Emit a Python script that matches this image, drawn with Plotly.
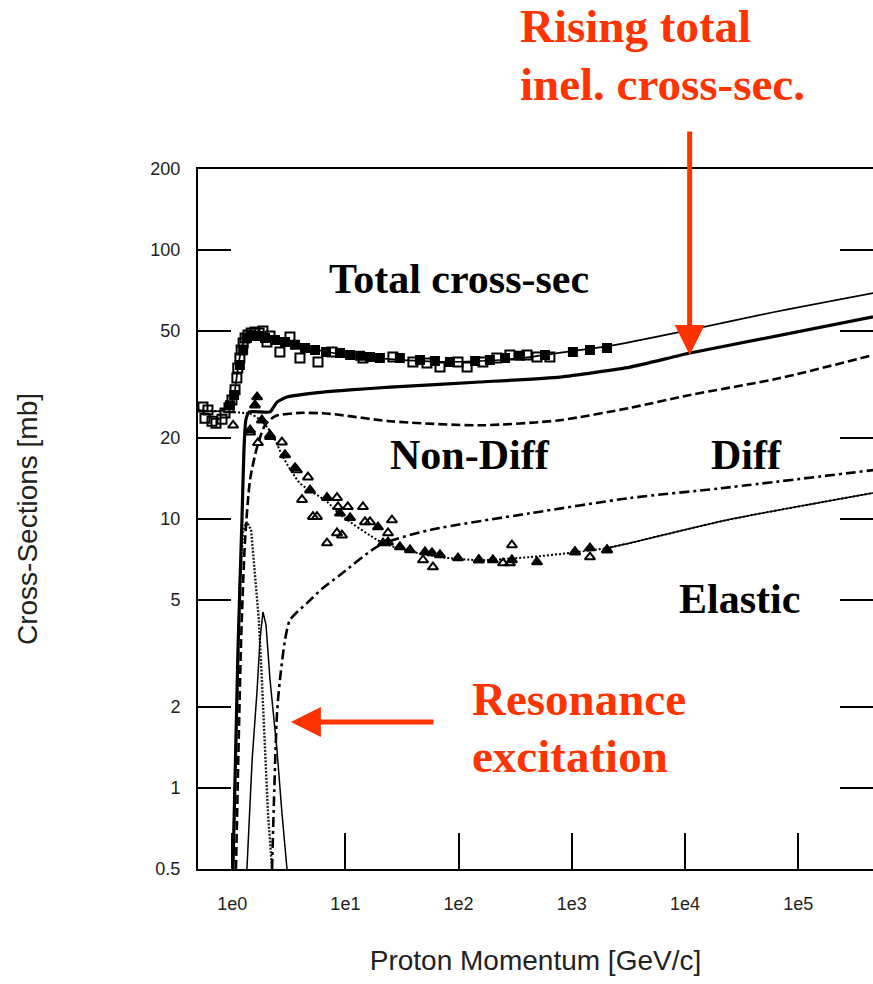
import numpy as np
import plotly.graph_objects as go

# ---- model curves: proton momentum [GeV/c] vs cross-section [mb] ----
total_p = [0.5, 0.78, 0.957, 1.04, 1.12, 1.20, 1.27, 1.38, 1.59, 1.95, 2.64, 3.97, 6.34, 10, 24.7, 78.6, 231, 426, 1000, 2170, 1e4, 6e4, 4.6e5]
total_xs = [25.4, 25.2, 26.5, 29.0, 36.0, 42.5, 45.5, 47.5, 48.0, 47.6, 46.0, 43.8, 42.1, 40.7, 39.3, 38.4, 39.0, 40.0, 42.1, 44.0, 50.0, 58.7, 69.2]

inel_p = [1.016, 1.125, 1.22, 1.27, 1.32, 1.41, 2.16, 2.49, 3.05, 6.34, 11.0, 24.7, 154, 787, 3270, 1.11e4, 4.58e5]
inel_xs = [0.5, 3.26, 9.9, 18.0, 23.3, 25.0, 25.0, 27.2, 28.4, 29.6, 30.2, 30.9, 32.3, 33.7, 36.7, 41.4, 56.4]

nondiff_p = [1.08, 1.20, 1.30, 1.44, 1.66, 1.95, 2.39, 3.97, 7.31, 24.7, 154, 787, 3270, 1.11e4, 6.9e4, 4.58e5]
nondiff_xs = [0.5, 3.55, 8.35, 14.0, 18.5, 22.3, 24.1, 24.8, 24.6, 23.1, 22.3, 23.3, 25.9, 28.9, 33.4, 40.7]

diff_p = [2.25, 2.34, 2.49, 2.64, 2.93, 3.24, 4.58, 6.34, 8.95, 20.2, 55.8, 427, 3270, 2.04e4, 4.58e5]
diff_xs = [0.5, 0.90, 1.90, 2.52, 3.55, 4.21, 4.87, 5.54, 6.19, 8.0, 9.10, 10.5, 11.97, 13.0, 15.2]

elastic_p = [0.5, 0.957, 1.44, 1.69, 2.03, 2.39, 2.81, 3.97, 6.88, 8.95, 21.5, 39.5, 68.5, 155, 427, 964, 2050, 3270, 2.35e4, 4.58e5]
elastic_xs = [25.4, 25.0, 24.6, 23.7, 22.0, 19.7, 17.0, 13.6, 11.6, 10.4, 8.14, 7.54, 7.22, 7.03, 7.22, 7.48, 7.80, 8.14, 9.91, 12.5]

res_a_p = [1.016, 1.10, 1.17, 1.25, 1.35, 1.47, 1.59, 1.72, 1.83, 1.95, 2.07, 2.25]
res_a_xs = [0.5, 2.31, 5.93, 9.10, 9.75, 9.10, 6.19, 4.21, 2.52, 1.38, 0.81, 0.5]

res_b_p = [1.35, 1.50, 1.66, 1.76, 1.87, 1.99, 2.16, 2.49, 2.75, 3.05]
res_b_xs = [0.5, 1.27, 2.31, 3.55, 4.51, 4.04, 2.52, 1.38, 0.81, 0.5]

# ---- measurements ----
tot_open_p = [0.552, 0.611, 0.575, 0.663, 0.719, 0.813, 0.864, 0.937, 0.996, 1.06, 1.10, 1.12, 1.17, 1.20, 1.25, 1.30, 1.38, 1.47, 1.59, 1.73, 1.87, 2.03, 2.16, 2.64, 3.24, 3.97, 5.73, 7.62, 14.3, 26.3, 39.5, 52.6, 68.5, 98.8, 119, 164, 218, 284, 402, 493, 641]
tot_open_xs = [26.1, 25.4, 23.7, 23.1, 22.7, 23.5, 24.8, 25.9, 27.7, 30.2, 33.4, 36.4, 39.7, 42.5, 45.1, 47.1, 48.3, 49.1, 49.6, 49.1, 50.0, 45.5, 47.9, 41.8, 47.5, 39.7, 38.3, 41.8, 39.7, 40.0, 38.3, 38.0, 36.7, 38.3, 36.7, 38.3, 39.7, 40.7, 40.7, 40.0, 40.0]

tot_fill_p = [0.957, 1.04, 1.17, 1.25, 1.35, 1.50, 1.69, 1.95, 2.39, 2.93, 3.59, 4.40, 5.39, 6.74, 8.96, 11.0, 13.5, 16.5, 20.2, 30.3, 45.6, 61.8, 83.9, 140, 189, 257, 349, 580, 1023, 1448, 2048]
tot_fill_xs = [26.5, 28.9, 37.4, 42.5, 47.1, 47.9, 47.9, 47.1, 46.3, 45.5, 44.4, 43.2, 42.5, 41.8, 41.4, 40.7, 40.4, 40.0, 39.7, 39.7, 39.0, 38.7, 38.3, 38.7, 39.0, 39.7, 40.4, 40.7, 41.8, 42.5, 43.2]

el_open_p = [1.02, 1.44, 1.69, 2.16, 2.75, 3.73, 4.67, 4.14, 5.17, 5.61, 6.88, 8.43, 8.61, 9.33, 8.43, 10.5, 14.3, 14.9, 16.5, 25.8, 23.8, 48.5, 59.4, 151, 247, 296, 284, 1067, 1448, 2048]
el_open_xs = [22.3, 21.0, 19.2, 20.5, 19.3, 15.2, 14.3, 11.8, 10.2, 10.2, 8.14, 8.87, 11.1, 8.71, 12.0, 11.1, 11.1, 9.75, 9.75, 9.91, 8.87, 7.04, 6.63, 7.04, 6.86, 8.00, 6.86, 7.54, 7.22, 7.67]

el_fill_p = [1.66, 1.59, 1.44, 1.83, 2.16, 2.93, 3.59, 4.87, 6.88, 8.96, 11.0, 19.4, 21.5, 23.8, 30.3, 37.2, 50.5, 58.2, 68.5, 98.8, 151, 201, 296, 493, 1067, 1448, 2048]
el_fill_xs = [28.4, 26.5, 21.4, 23.3, 20.2, 17.3, 15.5, 12.8, 12.0, 10.5, 10.1, 9.33, 8.14, 8.20, 7.87, 7.67, 7.54, 7.48, 7.35, 7.16, 7.04, 7.04, 7.04, 6.92, 7.54, 7.80, 7.67]

x_tick_vals = [1, 10, 100, 1e3, 1e4, 1e5]
x_tick_text = ["1e0", "1e1", "1e2", "1e3", "1e4", "1e5"]
y_tick_vals = [0.5, 1, 2, 5, 10, 20, 50, 100, 200]
y_tick_text = ["0.5", "1", "2", "5", "10", "20", "50", "100", "200"]

BLACK = "#000000"
RED = "#ff3300"
SANS = "Liberation Sans, Arial, sans-serif"
SERIF = "Liberation Serif, Times New Roman, serif"

fig = go.Figure()


def curve(px, py, width, dash="solid", color=BLACK, yaxis="y", smoothing=0.7):
    line = dict(color=color, width=width, dash=dash)
    if smoothing:
        line.update(shape="spline", smoothing=smoothing)
    fig.add_trace(go.Scatter(
        x=px, y=py, mode="lines", yaxis=yaxis, line=line,
        showlegend=False, hoverinfo="skip",
    ))


curve(res_a_p, res_a_xs, 2.4, dash="2px,1.5px", color="#222222", smoothing=0)
curve(res_b_p, res_b_xs, 1.5, smoothing=0)
curve(diff_p, diff_xs, 2.6, dash="10px,4px,3px,4px")
curve(nondiff_p, nondiff_xs, 2.6, dash="9px,4px")
curve(elastic_p, elastic_xs, 2.0, dash="2px,2px")
# fitted elastic beyond the last measurement
el_ext = [i for i, p in enumerate(elastic_p) if p >= 2000]
curve([elastic_p[i] for i in el_ext], [elastic_xs[i] for i in el_ext], 1.5, yaxis="y2")
curve(inel_p, inel_xs, 3.2, smoothing=0.45)
curve(total_p, total_xs, 1.7)


def points(px, py, symbol, size):
    fig.add_trace(go.Scatter(
        x=px, y=py, mode="markers",
        marker=dict(symbol=symbol, size=size, color=BLACK,
                    line=dict(color=BLACK, width=2)),
        showlegend=False, hoverinfo="skip", cliponaxis=True,
    ))


points(tot_open_p, tot_open_xs, "square-open", 9)
points(tot_fill_p, tot_fill_xs, "square", 8)
points(el_open_p, el_open_xs, "triangle-up-open", 9)
points(el_fill_p, el_fill_xs, "triangle-up", 9)

axis_common = dict(
    type="log", showgrid=False, zeroline=False,
    showline=True, linecolor=BLACK, linewidth=2,
    ticks="inside", tickcolor=BLACK, tickwidth=2,
    tickfont=dict(family=SANS, size=18, color="#222222"),
)

fig.update_layout(
    width=873, height=984,
    margin=dict(l=198, r=0, t=169, b=115),
    paper_bgcolor="white", plot_bgcolor="white",
    showlegend=False,
    xaxis=dict(
        **axis_common,
        range=[np.log10(0.499), np.log10(4.58e5)],
        mirror=True, ticklen=36,
        tickvals=x_tick_vals, ticktext=x_tick_text,
        ticklabelstandoff=17,
        title=dict(text="Proton Momentum [GeV/c]", standoff=38,
                   font=dict(family=SANS, size=28, color="#222222")),
        automargin=False,
    ),
    yaxis=dict(
        **axis_common,
        range=[np.log10(0.5), np.log10(200)],
        mirror=False, ticklen=33,
        tickvals=y_tick_vals, ticktext=y_tick_text,
        ticklabelstandoff=12,
        title=dict(text="Cross-Sections [mb]", standoff=105,
                   font=dict(family=SANS, size=28, color="#222222")),
        automargin=False,
    ),
    yaxis2=dict(
        type="log", overlaying="y", side="right",
        range=[np.log10(0.5), np.log10(200)],
        showgrid=False, zeroline=False, showline=False,
        ticks="inside", ticklen=33, tickwidth=2, tickcolor=BLACK,
        tickvals=y_tick_vals, showticklabels=False,
    ),
)

labels = [
    ("Total cross-sec", 100, 78.0),
    ("Non-Diff", 126, 17.3),
    ("Diff", 3.46e4, 17.3),
    ("Elastic", 3.0e4, 5.04),
]
for text, px, py in labels:
    fig.add_annotation(
        x=np.log10(px), y=np.log10(py), xref="x", yref="y",
        text="<b>%s</b>" % text, showarrow=False,
        font=dict(family=SERIF, size=42, color=BLACK),
        xanchor="center", yanchor="middle",
    )

# red call-outs
for text, yv in [("Rising total", 1.204), ("inel. cross-sec.", 1.121)]:
    fig.add_annotation(
        x=0.474, y=yv, xref="paper", yref="paper",
        text="<b>%s</b>" % text, showarrow=False,
        font=dict(family=SERIF, size=47, color=RED),
        xanchor="left", yanchor="middle",
    )
for text, yv in [("Resonance", 2.14), ("excitation", 1.315)]:
    fig.add_annotation(
        x=np.log10(126), y=np.log10(yv), xref="x", yref="y",
        text="<b>%s</b>" % text, showarrow=False,
        font=dict(family=SERIF, size=47, color=RED),
        xanchor="left", yanchor="middle",
    )

# arrows
fig.add_annotation(
    x=np.log10(1.1e4), y=np.log10(40.7), xref="x", yref="y",
    ax=0, ay=-225, text="", showarrow=True,
    arrowhead=2, arrowsize=1.2, arrowwidth=5, arrowcolor=RED, standoff=0,
)
fig.add_annotation(
    x=np.log10(3.30), y=np.log10(1.76), xref="x", yref="y",
    ax=144, ay=0, text="", showarrow=True,
    arrowhead=2, arrowsize=1.2, arrowwidth=5, arrowcolor=RED, standoff=0,
)

fig.write_html("out.html")
